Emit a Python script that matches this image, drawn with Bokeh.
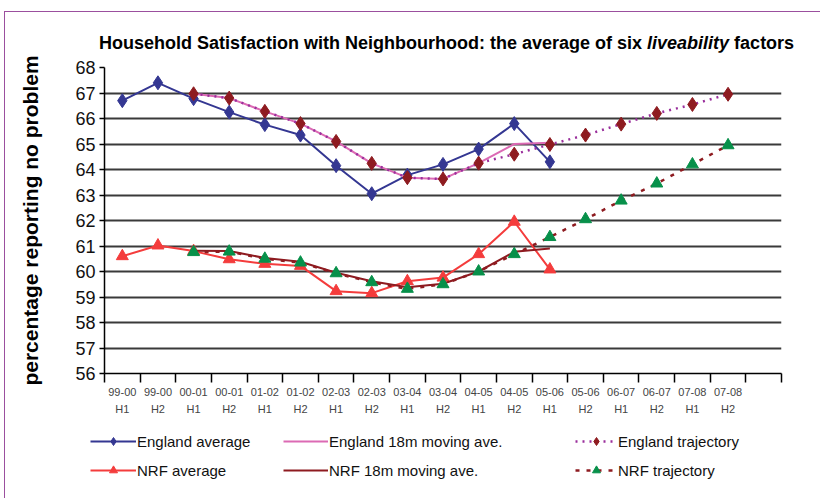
from bokeh.plotting import figure
from bokeh.models import Range1d, FixedTicker, LinearAxis, Legend, LegendItem, Div
from bokeh.layouts import column
from bokeh.embed import file_html
from bokeh.resources import INLINE

# Half-year periods along the x axis (one empty slot is left after 07-08 H2)
periods = ["99-00", "99-00", "00-01", "00-01", "01-02", "01-02", "02-03", "02-03",
           "03-04", "03-04", "04-05", "04-05", "05-06", "05-06", "06-07", "06-07",
           "07-08", "07-08"]
halves = ["H1", "H2"] * 9
n_slots = 19

# England series (start at 99-00 H1)
england_avg = [66.7, 67.4, 66.78, 66.25, 65.76, 65.35, 64.15, 63.05, 63.78, 64.2, 64.8, 65.8, 64.3]
# England series starting at 00-01 H1
england_ma = [66.97, 66.8, 66.28, 65.8, 65.1, 64.24, 63.68, 63.63, 64.25, 65.0, 65.05]
england_traj = [66.97, 66.8, 66.28, 65.8, 65.1, 64.24, 63.68, 63.63, 64.25, 64.6,
                64.98, 65.35, 65.78, 66.2, 66.55, 66.95]

# NRF series
nrf_avg = [60.6, 61.02, 60.8, 60.48, 60.3, 60.22, 59.23, 59.15, 59.62, 59.76, 60.68, 61.95, 60.08]
nrf_ma = [60.81, 60.8, 60.53, 60.38, 59.95, 59.62, 59.38, 59.52, 60.0, 60.77, 60.9]
nrf_traj = [60.76, 60.78, 60.5, 60.35, 59.93, 59.58, 59.32, 59.5, 60.0, 60.68,
            61.35, 62.05, 62.78, 63.45, 64.2, 64.95]

y_ticks = list(range(56, 69))

title_html = ("Household Satisfaction with Neighbourhood: the average of six "
              "<i>liveability</i> factors")


def centers(values, start=0):
    return [start + i + 0.5 for i in range(len(values))]


SERIES = {
    "e_avg": (centers(england_avg), england_avg),
    "e_ma": (centers(england_ma, 2), england_ma),
    "e_traj": (centers(england_traj, 2), england_traj),
    "n_avg": (centers(nrf_avg), nrf_avg),
    "n_ma": (centers(nrf_ma, 2), nrf_ma),
    "n_traj": (centers(nrf_traj, 2), nrf_traj),
}

NAVY = "#343792"
PINK = "#dc6ab4"
DOTS = "#9a2f9c"
DARKRED = "#8e1b20"
RED = "#f43c3c"
GREEN = "#07904a"
FONT = "Liberation Sans"

# ---- title -------------------------------------------------------------
title = Div(width=815, height=40,
            text=('<div style="padding-left:94px; padding-top:21px; white-space:nowrap; '
                  'font-family:\'Liberation Sans\'; font-size:18px; font-weight:bold; '
                  'line-height:20px; color:#000;">' + title_html + '</div>'),
            styles={"margin": "0", "padding": "0"})

# ---- main chart --------------------------------------------------------
p = figure(width=815, height=368, x_range=Range1d(0, n_slots), y_range=Range1d(56, 68),
           output_backend="svg", toolbar_location=None, frame_align=False,
           min_border_left=99, min_border_right=39, min_border_top=15, min_border_bottom=47)
p.outline_line_color = None
p.background_fill_color = "white"

p.xgrid.visible = False
p.ygrid.ticker = FixedTicker(ticks=y_ticks)
p.ygrid.grid_line_color = "#3a3a3a"
p.ygrid.grid_line_width = 1.8

ya = p.yaxis[0]
ya.ticker = FixedTicker(ticks=y_ticks)
ya.axis_line_color = "black"
ya.axis_line_width = 1.5
ya.major_tick_out = 5
ya.major_tick_in = 0
ya.major_tick_line_color = "black"
ya.major_tick_line_width = 1.5
ya.minor_tick_line_color = None
ya.major_label_text_font = FONT
ya.major_label_text_font_size = "18px"
ya.major_label_text_color = "#111111"
ya.major_label_standoff = 4
ya.axis_label = "percentage reporting no problem"
ya.axis_label_text_font = FONT
ya.axis_label_text_font_size = "21px"
ya.axis_label_text_font_style = "bold"
ya.axis_label_text_color = "black"
ya.axis_label_standoff = 30

# period names centred in their slots, tick marks on slot boundaries
label_pos = centers(periods)
xa = p.xaxis[0]
xa.ticker = FixedTicker(ticks=label_pos, minor_ticks=list(range(n_slots + 1)))
xa.major_label_overrides = {pos: lab for pos, lab in zip(label_pos, periods)}
xa.major_tick_line_color = None
xa.major_tick_out = 0
xa.major_tick_in = 0
xa.minor_tick_out = 9
xa.minor_tick_in = 0
xa.minor_tick_line_color = "black"
xa.minor_tick_line_width = 1.5
xa.axis_line_color = "black"
xa.axis_line_width = 1.5
xa.major_label_text_font = FONT
xa.major_label_text_font_size = "11px"
xa.major_label_text_color = "#444444"
xa.major_label_standoff = 5

xa2 = LinearAxis(ticker=FixedTicker(ticks=label_pos),
                 major_label_overrides={pos: lab for pos, lab in zip(label_pos, halves)},
                 axis_line_color=None, major_tick_line_color=None, minor_tick_line_color=None,
                 major_tick_out=0, major_tick_in=0,
                 major_label_text_font=FONT, major_label_text_font_size="11px",
                 major_label_text_color="#444444", major_label_standoff=4)
p.add_layout(xa2, "below")


def draw_series(fig):
    """Draw the six series on fig and return their renderers by name."""
    r = {}
    x, y = SERIES["e_avg"]
    r["e_avg"] = [fig.line(x, y, line_color=NAVY, line_width=2),
                  fig.scatter(x, y, marker="diamond", size=14, fill_color=NAVY, line_color=NAVY)]
    x, y = SERIES["e_ma"]
    r["e_ma"] = [fig.line(x, y, line_color=PINK, line_width=2)]
    x, y = SERIES["e_traj"]
    r["e_traj"] = [fig.line(x, y, line_color=DOTS, line_width=2.5, line_dash="2 5"),
                   fig.scatter(x, y, marker="diamond", size=14, fill_color=DARKRED,
                               line_color=DARKRED)]
    x, y = SERIES["n_avg"]
    r["n_avg"] = [fig.line(x, y, line_color=RED, line_width=2),
                  fig.scatter(x, y, marker="triangle", size=12, fill_color=RED, line_color=RED)]
    x, y = SERIES["n_ma"]
    r["n_ma"] = [fig.line(x, y, line_color=DARKRED, line_width=2)]
    x, y = SERIES["n_traj"]
    r["n_traj"] = [fig.line(x, y, line_color=DARKRED, line_width=2.5, line_dash="4 7"),
                   fig.scatter(x, y, marker="triangle", size=12, fill_color=GREEN,
                               line_color=GREEN)]
    return r


draw_series(p)

# ---- legend strip ------------------------------------------------------
# The series are drawn again here only so that the legend has renderers to
# sample; the strip's y range keeps them out of view.
lg = figure(width=815, height=78, x_range=Range1d(0, n_slots), y_range=Range1d(0, 1),
            output_backend="svg", toolbar_location=None, frame_align=False,
            x_axis_location=None, y_axis_location=None,
            min_border=0, min_border_left=0, min_border_right=0,
            min_border_top=0, min_border_bottom=0)
lg.outline_line_color = None
lg.xgrid.visible = False
lg.ygrid.visible = False
lr = draw_series(lg)


def make_legend(items, loc, glyph_w):
    leg = Legend(items=items, location=loc, orientation="vertical",
                 padding=0, margin=0, spacing=9, glyph_width=glyph_w, glyph_height=20,
                 label_height=20, label_standoff=1,
                 border_line_alpha=0, background_fill_alpha=0,
                 label_text_font=FONT, label_text_font_size="15px",
                 label_text_color="#111111")
    lg.add_layout(leg, "center")


make_legend([LegendItem(label="England average", renderers=lr["e_avg"]),
             LegendItem(label="NRF average", renderers=lr["n_avg"])], (85, 18), 46)
make_legend([LegendItem(label="England 18m moving ave.", renderers=lr["e_ma"]),
             LegendItem(label="NRF 18m moving ave.", renderers=lr["n_ma"])], (278, 18), 45)
make_legend([LegendItem(label="England trajectory", renderers=lr["e_traj"]),
             LegendItem(label="NRF trajectory", renderers=lr["n_traj"])], (570, 18), 42)

page = column(title, p, lg, spacing=0,
              styles={"margin-left": "4px", "margin-top": "11px",
                      "border-left": "1px solid #9b4f9e", "border-top": "1px solid #9b4f9e"})

open("out.html", "w").write(file_html(page, INLINE))
